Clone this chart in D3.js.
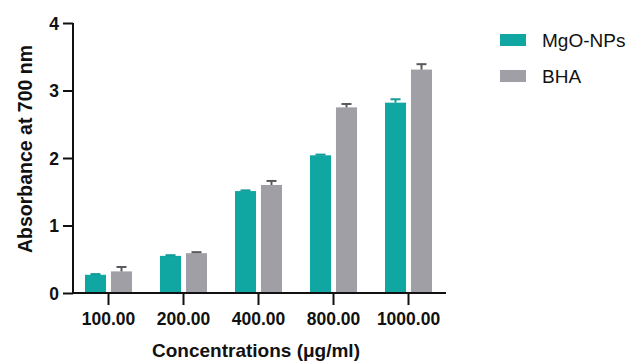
<!DOCTYPE html>
<html>
<head>
<meta charset="utf-8">
<script src="https://cdn.jsdelivr.net/npm/d3@7"></script>
<style>
  html, body { margin: 0; padding: 0; background: #ffffff; }
  svg { display: block; font-family: "Liberation Sans", Arial, sans-serif; }
</style>
</head>
<body>
<svg id="chart" width="634" height="363"></svg>
<script>
// Concentrations tested and absorbance readings (mean and upper error)
const categories = ["100.00", "200.00", "400.00", "800.00", "1000.00"];
const seriesNames = ["MgO-NPs", "BHA"];
const mgoValues = [0.27, 0.55, 1.51, 2.04, 2.82];
const mgoErrors = [0.01, 0.01, 0.01, 0.01, 0.05];
const bhaValues = [0.32, 0.59, 1.60, 2.75, 3.31];
const bhaErrors = [0.065, 0.015, 0.06, 0.05, 0.08];
const yTicks = [0, 1, 2, 3, 4];

const colors = { "MgO-NPs": "#10a6a2", "BHA": "#a09fa6" };
const capColors = { "MgO-NPs": "#109c98", "BHA": "#5a5a5e" };

const rows = categories.map((c, i) => ({
  cat: c,
  bars: [
    { name: "MgO-NPs", value: mgoValues[i], err: mgoErrors[i] },
    { name: "BHA", value: bhaValues[i], err: bhaErrors[i] }
  ]
}));

const svg = d3.select("#chart");

const x = d3.scaleBand().domain(categories).range([71, 446])
  .paddingInner(0.373).paddingOuter(0.1865);
const xSub = d3.scaleBand().domain(seriesNames).range([0, x.bandwidth()]).paddingInner(0.19);
const y = d3.scaleLinear().domain([0, 4]).range([293, 23]);

// bars
const groups = svg.append("g").selectAll("g").data(rows).join("g")
  .attr("transform", d => `translate(${x(d.cat)},0)`);

groups.selectAll("rect").data(d => d.bars).join("rect")
  .attr("x", d => xSub(d.name))
  .attr("y", d => y(d.value))
  .attr("width", xSub.bandwidth())
  .attr("height", d => y(0) - y(d.value))
  .attr("fill", d => colors[d.name]);

// upper error bars
const eb = groups.selectAll("g.err").data(d => d.bars).join("g").attr("class", "err");
eb.append("line")
  .attr("x1", d => xSub(d.name) + xSub.bandwidth() / 2)
  .attr("x2", d => xSub(d.name) + xSub.bandwidth() / 2)
  .attr("y1", d => y(d.value))
  .attr("y2", d => y(d.value + d.err))
  .attr("stroke", d => capColors[d.name]).attr("stroke-width", 2);
eb.append("line")
  .attr("x1", d => xSub(d.name) + xSub.bandwidth() / 2 - 5)
  .attr("x2", d => xSub(d.name) + xSub.bandwidth() / 2 + 5)
  .attr("y1", d => y(d.value + d.err))
  .attr("y2", d => y(d.value + d.err))
  .attr("stroke", d => capColors[d.name]).attr("stroke-width", 2);

// y axis
const yAxis = svg.append("g").attr("transform", "translate(73,0)")
  .call(d3.axisLeft(y).tickValues(yTicks).tickFormat(d3.format("d")).tickSize(10).tickPadding(4));
yAxis.select(".domain").attr("d", `M0,${y(4)}V${y(0) + 1}`).attr("stroke-width", 2).attr("stroke", "#111");
yAxis.selectAll(".tick line").attr("stroke-width", 2).attr("stroke", "#111");
yAxis.selectAll(".tick text").attr("font-size", 17.5).attr("font-weight", "bold").attr("fill", "#111")
  .attr("dy", "0.36em")
  .attr("font-family", "Liberation Sans, Arial, sans-serif");

// x axis
const xAxis = svg.append("g").attr("transform", `translate(0,${y(0)})`)
  .call(d3.axisBottom(x).tickSize(12).tickPadding(8));
xAxis.select(".domain").attr("d", "M72,0H446").attr("stroke-width", 2).attr("stroke", "#111");
xAxis.selectAll(".tick line").attr("stroke-width", 2).attr("stroke", "#111");
xAxis.selectAll(".tick text").attr("font-size", 17.5).attr("font-weight", "bold").attr("fill", "#111")
  .attr("font-family", "Liberation Sans, Arial, sans-serif");

// axis titles
svg.append("text")
  .attr("x", 256).attr("y", 357)
  .attr("text-anchor", "middle")
  .attr("font-size", 19).attr("font-weight", "bold").attr("fill", "#111")
  .text("Concentrations (μg/ml)");

svg.append("text")
  .attr("transform", "translate(32,149) rotate(-90)")
  .attr("text-anchor", "middle")
  .attr("font-size", 19.5).attr("font-weight", "bold").attr("fill", "#111")
  .text("Absorbance at 700 nm");

// legend
const legend = svg.append("g").selectAll("g").data(seriesNames).join("g")
  .attr("transform", (d, i) => `translate(500,${34 + i * 36})`);
legend.append("rect").attr("width", 26).attr("height", 12).attr("fill", d => colors[d]);
legend.append("text")
  .attr("x", 42).attr("y", 13)
  .attr("font-size", 19).attr("fill", "#111")
  .text(d => d);
</script>
</body>
</html>
